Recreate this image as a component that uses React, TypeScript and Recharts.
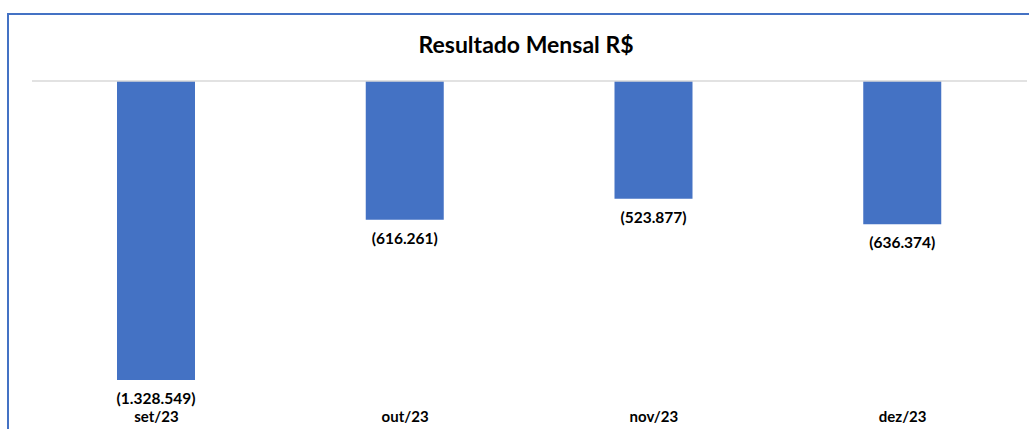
import React from 'react'
import { BarChart, Bar, XAxis, YAxis, ReferenceLine, LabelList } from 'recharts'

const months = ['set/23', 'out/23', 'nov/23', 'dez/23']
const results = [-1328549, -616261, -523877, -636374]

const data = months.map((month, i) => ({ month, value: results[i] }))

const BLUE = '#4472C4'
const FONT = 'Lato, "Open Sans", sans-serif'

const formatBRL = (v: number) => {
  const s = Math.abs(v).toLocaleString('pt-BR')
  return v < 0 ? `(${s})` : s
}

const BarLabel = (props: any) => {
  const { x, y, width, height, value } = props
  const bottom = Math.max(y, y + height)
  return (
    <text
      x={x + width / 2}
      y={bottom + 18}
      textAnchor="middle"
      dominantBaseline="central"
      fontFamily={FONT}
      fontWeight={700}
      fontSize={15.5}
      fill="#000"
    >
      {formatBRL(value)}
    </text>
  )
}

const App: React.FC = () => {
  return (
    <div
      style={{
        position: 'absolute',
        left: 7,
        top: 13,
        width: 1022,
        height: 416,
        boxSizing: 'border-box',
        borderTop: `2px solid ${BLUE}`,
        borderLeft: `2px solid ${BLUE}`,
        background: '#fff',
        overflow: 'hidden',
      }}
    >
      <div
        style={{
          position: 'absolute',
          left: 0,
          width: 1034,
          top: 15,
          textAlign: 'center',
          fontFamily: FONT,
          fontWeight: 700,
          fontSize: 23,
          color: '#000',
        }}
      >
        Resultado Mensal R$
      </div>
      <BarChart
        width={1020}
        height={414}
        data={data}
        margin={{ top: 66, right: 2, left: 23, bottom: 3 }}
      >
        <XAxis
          dataKey="month"
          axisLine={false}
          tickLine={false}
          height={30}
          tickMargin={9}
          tick={{ fontFamily: FONT, fontWeight: 700, fontSize: 15, fill: '#000' }}
        />
        <YAxis hide domain={[-1400000, 0]} />
        <ReferenceLine y={0} stroke="#D9D9D9" strokeWidth={1.5} />
        <Bar dataKey="value" fill={BLUE} barSize={78} isAnimationActive={false}>
          <LabelList dataKey="value" content={BarLabel} />
        </Bar>
      </BarChart>
    </div>
  )
}

export default App
